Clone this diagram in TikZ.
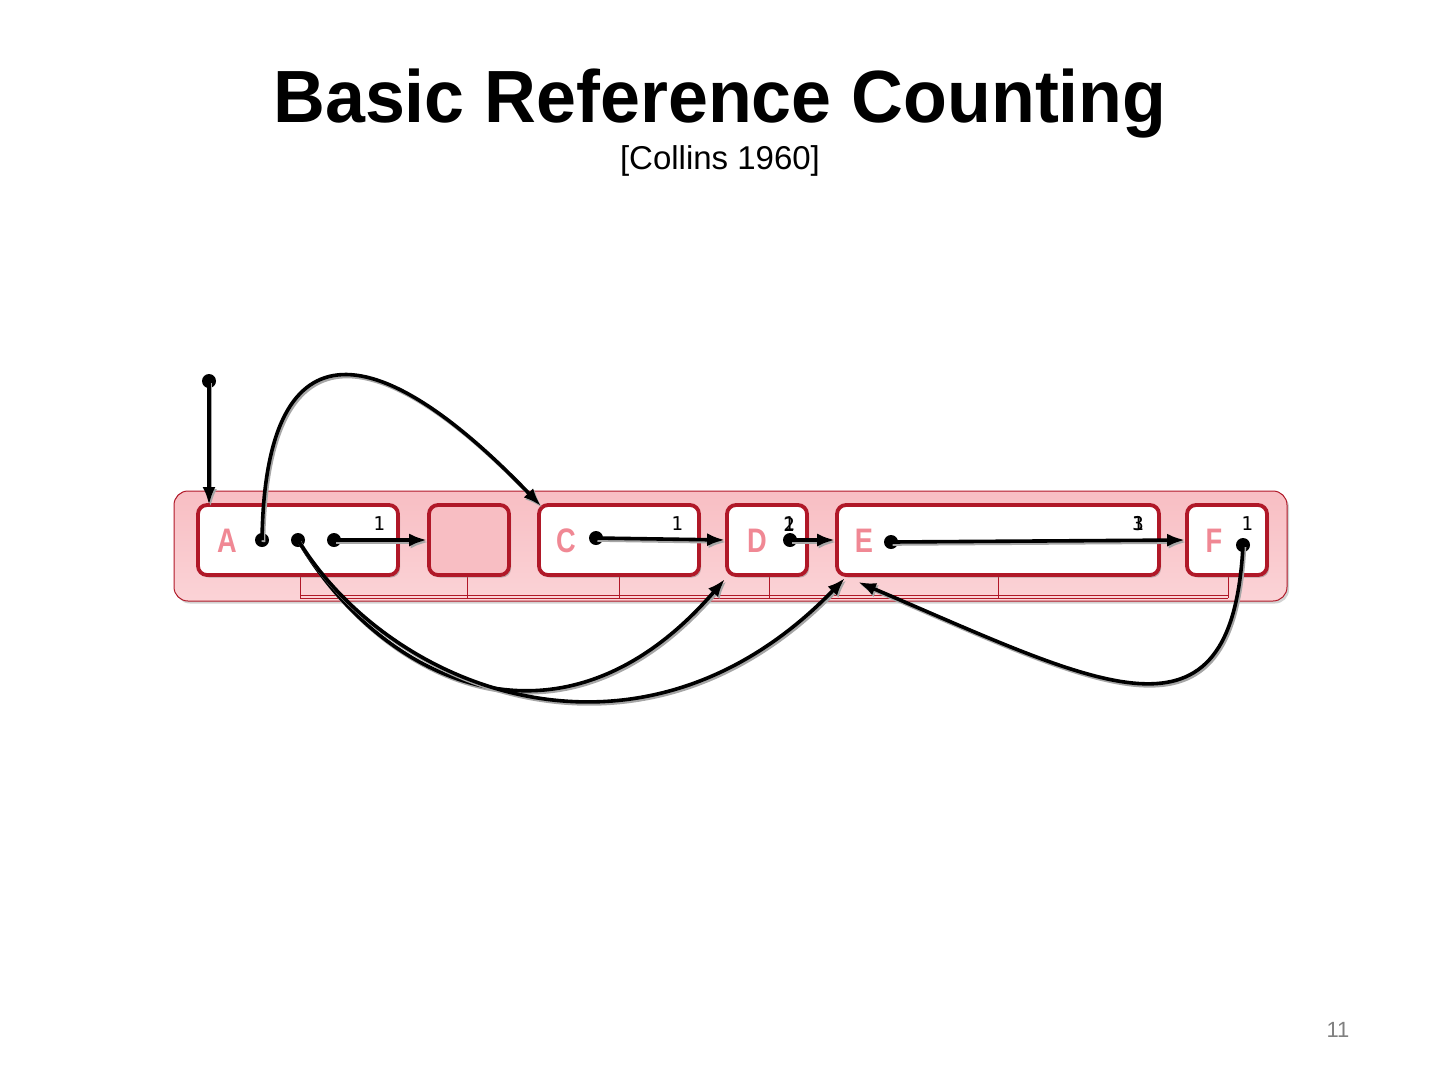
\documentclass[tikz,border=0pt]{standalone}
\usepackage{fontspec}
\setmainfont{Liberation Sans}
\newfontfamily\titlef{Liberation Sans}[FakeStretch=0.97]
\newfontfamily\lblf{Liberation Sans}[FakeStretch=0.8]
\newfontfamily\monof{DejaVu Sans Mono}
\usetikzlibrary{arrows.meta,shadows}
\definecolor{bordred}{HTML}{B01828}
\definecolor{lblpink}{HTML}{F08894}
\definecolor{boxpink}{HTML}{F8BEC3}
\definecolor{boxpinklight}{HTML}{FCDCDF}
\begin{document}
\begin{tikzpicture}[x=1pt,y=-1pt,
  cell/.style={draw=bordred, line width=3.8pt, fill=white, rounded corners=9pt, minimum height=70pt, inner sep=0pt, drop shadow={shadow xshift=2pt, shadow yshift=-2.5pt, fill=black!50}},
  lbl/.style={text=lblpink, font=\lblf\bfseries\fontsize{34}{34}\selectfont},
  cnt/.style={font=\monof\fontsize{19}{19}\selectfont, text=black},
  dotn/.style={circle, fill=black, minimum size=14pt, inner sep=0pt},
  ptr/.style={line width=3.6pt, -{Latex[length=18pt,width=13pt]}, preaction={draw=black!35, line width=3.6pt, transform canvas={shift={(1.5pt,-2pt)}}}},
  tick/.style={draw=bordred, line width=0.8pt}
]
\useasboundingbox (0,0) rectangle (1440,1080);
% title
\node (title) at (720,104) {\titlef\bfseries\fontsize{74}{74}\selectfont Basic Reference Counting};
\node (sub) at (720,161) {\fontsize{33}{33}\selectfont [Collins 1960]};
\node[text=black!50] (pg) at (1338,1030) {\fontsize{22}{22}\selectfont 11};
% outer region
\node[draw=bordred, line width=1pt, rounded corners=14pt, top color=boxpink, bottom color=boxpinklight!70!boxpink, minimum width=1113pt, minimum height=110pt, drop shadow={shadow xshift=2pt, shadow yshift=-2.5pt, fill=black!35}] (heap) at (730.5,546) {};
% bottom tick lines
\draw[tick] (300,595) -- (1228,595);
\draw[tick] (300,598) -- (1228,598);
\foreach \x in {300,467,619,769,998,1228} \draw[tick] (\x,577) -- (\x,598);
% cells
\node[cell, minimum width=200pt] (A) at (298,540) {};
\node[cell, minimum width=80pt, fill=boxpink] (B) at (469,540) {};
\node[cell, minimum width=160pt] (C) at (619,540) {};
\node[cell, minimum width=80pt] (D) at (767,540) {};
\node[cell, minimum width=322pt] (E) at (998,540) {};
\node[cell, minimum width=80pt] (F) at (1227,540) {};
% labels
\node[lbl] (lA) at (227,541) {A};
\node[lbl] (lC) at (566,541) {C};
\node[lbl] (lD) at (757,541) {D};
\node[lbl] (lE) at (864,541) {E};
\node[lbl] (lF) at (1214,541) {F};
% counts
\node[cnt] (cA) at (379,524) {1};
\node[cnt] (cC) at (677,524) {1};
\node[cnt] (cD1) at (789,524) {1};
\node[cnt] (cD2) at (789,524) {2};
\node[cnt] (cE1) at (1138,524) {1};
\node[cnt] (cE3) at (1138,524) {3};
\node[cnt] (cF) at (1247,524) {1};
% pointer origins
\node[dotn] (root) at (209,381) {};
\node[dotn] (a1) at (262,540) {};
\node[dotn] (a2) at (298,540) {};
\node[dotn] (a3) at (334,540) {};
\node[dotn] (c1) at (596,538) {};
\node[dotn] (d1) at (790,540) {};
\node[dotn] (e1) at (891,542) {};
\node[dotn] (f1) at (1243,545) {};
% targets
\coordinate (Atop) at (209,505);
\coordinate (Ctl) at (541,506);
\coordinate (Dbl) at (725,579);
\coordinate (Ebl) at (845,578);
\coordinate (Ebl2) at (858,582);
% pointers
\draw[ptr] (root.center) -- (Atop);
\draw[ptr] (a1.center) .. controls (265,325) and (372,330) .. (Ctl);
\draw[ptr] (a3.center) -- (B.west);
\draw[ptr] (a2.center) .. controls (380,680) and (560,770) .. (Dbl);
\draw[ptr] (a2.center) .. controls (390,690) and (640,790) .. (Ebl);
\draw[ptr] (c1.center) -- (D.west);
\draw[ptr] (d1.center) -- (E.west);
\draw[ptr] (e1.center) -- (F.west);
\draw[ptr] (f1.center) .. controls (1232,760) and (1100,685) .. (Ebl2);
\end{tikzpicture}
\end{document}
